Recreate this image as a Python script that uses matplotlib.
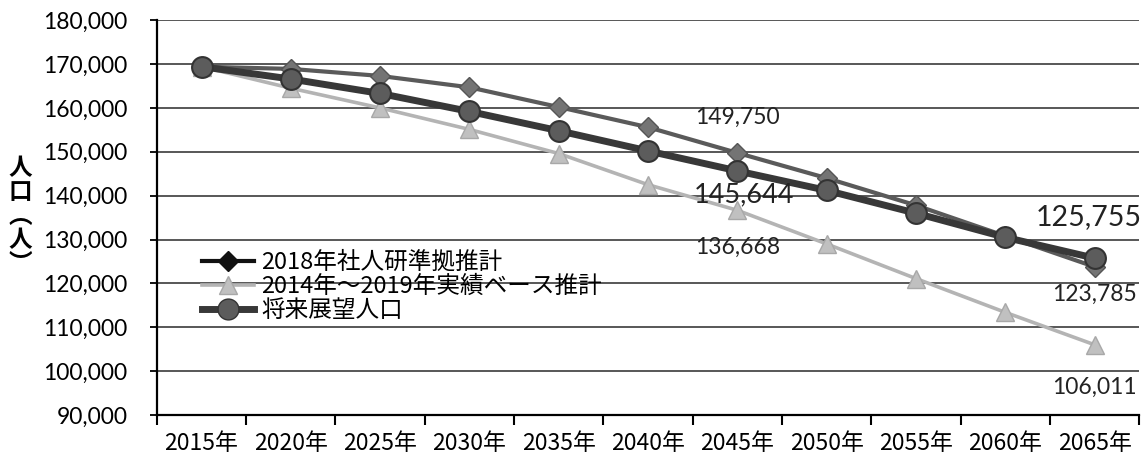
import matplotlib
matplotlib.use("Agg")
import matplotlib.pyplot as plt
from matplotlib.ticker import FuncFormatter, FixedLocator
from matplotlib.lines import Line2D

# 年次（カテゴリ）
years = ["2015年", "2020年", "2025年", "2030年", "2035年", "2040年",
         "2045年", "2050年", "2055年", "2060年", "2065年"]

# 系列（値は図から読み取り、ラベルのある点はラベル値）
ipss_2018 = [169400, 168900, 167300, 164700, 160200, 155600,
             149750, 144000, 137800, 130800, 123785]
base_2014_2019 = [169400, 164500, 160000, 155100, 149600, 142500,
                  136668, 129000, 121100, 113400, 106011]
future = [169400, 166600, 163300, 159200, 154800, 150200,
          145644, 141200, 136000, 130500, 125755]

series_names = ["2018年社人研準拠推計", "2014年～2019年実績ベース推計", "将来展望人口"]

# ラベル（系列番号, 年次番号, 値, ずらし量px, 大きさ）
labels = [
    (0, 6, 149750, (0, 36), 16.5),
    (2, 6, 145644, (7, -24), 19.5),
    (1, 6, 136668, (0, -37), 16.5),
    (2, 10, 125755, (-6, 41), 20.5),
    (0, 10, 123785, (0, -28), 16.5),
    (1, 10, 106011, (0, -43), 16.5),
]

jp = ["Noto Sans CJK JP", "DejaVu Sans"]
num = ["Lato", "DejaVu Sans"]

fig = plt.figure(figsize=(11.45, 4.70), dpi=100)
ax = fig.add_axes([0.137, 0.117, 0.858, 0.840])

x = list(range(len(years)))
ax.plot(x, base_2014_2019, color="#b4b4b4", lw=2.6, marker="^",
        ms=13, mfc="#c0c0c0", mec="#a8a8a8", zorder=3)
ax.plot(x, ipss_2018, color="#5a5a5a", lw=3.0, marker="D",
        ms=10, mfc="#747474", mec="#555555", zorder=4)
ax.plot(x, future, color="#383838", lw=5.0, marker="o",
        ms=15, mfc="#5c5c5c", mec="#333333", mew=1.5, zorder=5)

for s, i, v, off, fs in labels:
    ax.annotate(f"{v:,}", xy=(i, v), xytext=off, textcoords="offset pixels",
                ha="center", va="center", fontsize=fs, family=num,
                color="#222222", zorder=6)

ax.set_xlim(-0.5, len(years) - 0.5)
ax.set_ylim(90000, 180000)
ax.set_yticks(range(90000, 180001, 10000))
ax.yaxis.set_major_formatter(FuncFormatter(lambda v, p: f"{int(v):,}"))
ax.grid(axis="y", color="#4a4a4a", lw=1.3)
ax.set_axisbelow(True)

ax.set_xticks(x)
ax.set_xticklabels(years)
ax.xaxis.set_minor_locator(FixedLocator([i - 0.5 for i in range(len(years) + 1)]))
ax.tick_params(axis="x", which="major", length=0, pad=12)
ax.tick_params(axis="x", which="minor", length=7, width=1.5, direction="out")
ax.tick_params(axis="y", length=5, width=1.3, pad=16)
for t in ax.get_xticklabels():
    t.set_fontfamily(jp)
    t.set_fontsize(16.5)
for t in ax.get_yticklabels():
    t.set_fontfamily(num)
    t.set_fontsize(16.5)

for sp in ["top", "right"]:
    ax.spines[sp].set_visible(False)
ax.spines["left"].set_linewidth(1.6)
ax.spines["bottom"].set_linewidth(1.6)

# 凡例の記号は黒で描く
h1 = Line2D([], [], color="#111111", lw=3.0, marker="D", ms=10, mfc="#111111")
h2 = Line2D([], [], color="#b4b4b4", lw=2.6, marker="^", ms=13, mfc="#c0c0c0", mec="#a8a8a8")
h3 = Line2D([], [], color="#383838", lw=5.0, marker="o", ms=15, mfc="#5c5c5c", mec="#333333")
ax.legend([h1, h2, h3], series_names, loc="upper left", bbox_to_anchor=(0.034, 0.445),
          frameon=False, borderpad=0, handlelength=2.2, handletextpad=0.3,
          labelspacing=0.05, prop={"family": jp, "size": 17})

fig.text(20 / 1145, 0.54, "人\n口\n︵\n人\n︶", ha="center", va="center",
         fontsize=17, family=jp, fontweight="bold", linespacing=1.0)

fig.savefig("out.png", dpi=100)
